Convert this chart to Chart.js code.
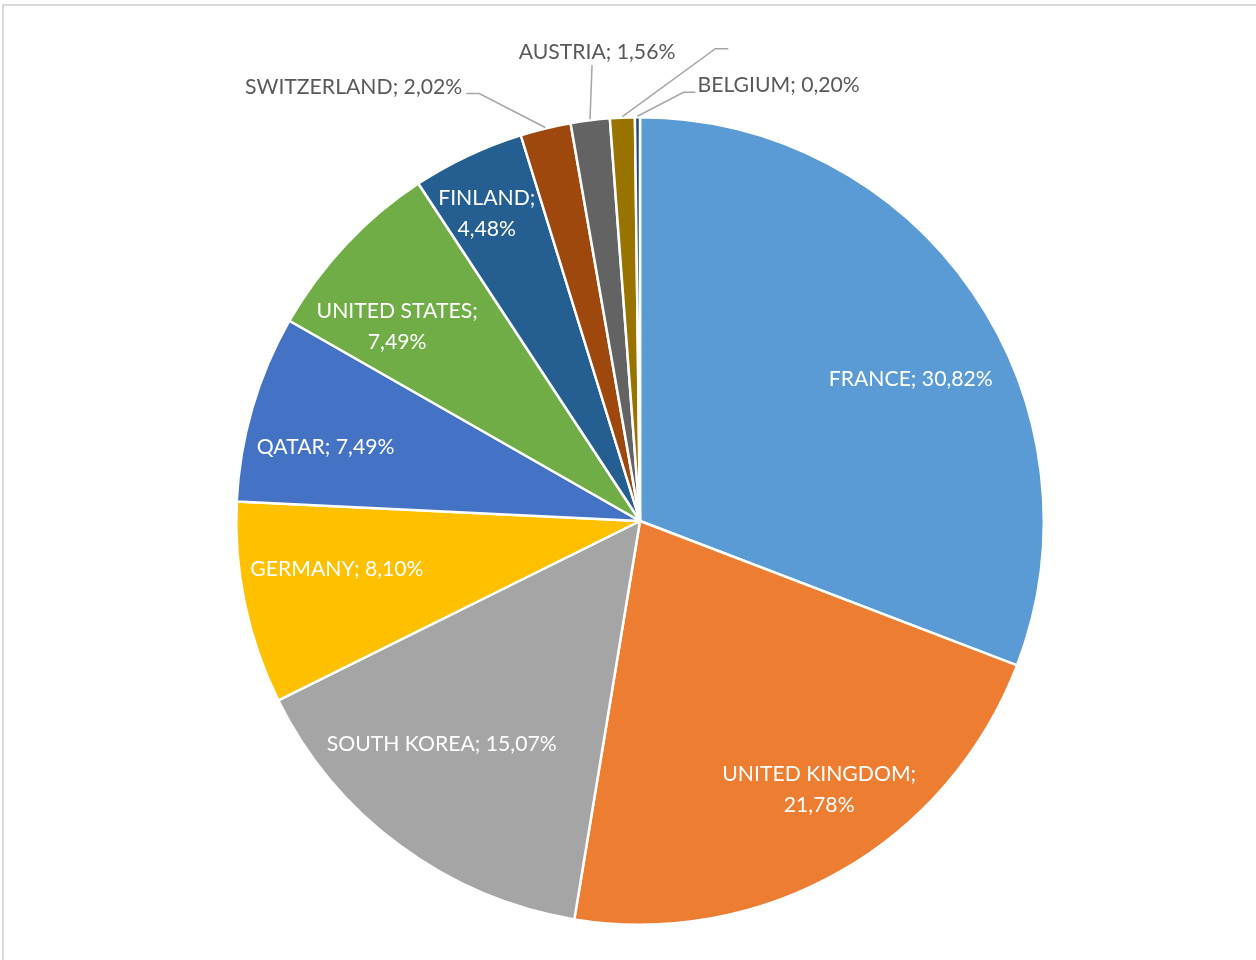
<!DOCTYPE html>
<html>
<head>
<meta charset="utf-8">
<script src="https://cdn.jsdelivr.net/npm/chart.js@4/dist/chart.umd.min.js"></script>
<style>
  html, body { margin: 0; padding: 0; background: #fff; }
  #wrap { position: relative; width: 1256px; height: 960px; overflow: hidden; }
  #frame { position: absolute; left: 2px; top: 4px; width: 1300px; height: 1000px;
           border-top: 2px solid #d9d9d9; border-left: 2px solid #d9d9d9; box-sizing: border-box; }
  #cv { position: absolute; left: 0; top: 0; }
</style>
</head>
<body>
<div id="wrap">
  <div id="frame"></div>
  <canvas id="cv" width="1256" height="960"></canvas>
</div>
<script>
// ---- data ----
const countries = ['FRANCE', 'UNITED KINGDOM', 'SOUTH KOREA', 'GERMANY', 'QATAR', 'UNITED STATES', 'FINLAND', 'SWITZERLAND', 'AUSTRIA', '', 'BELGIUM'];
const shares = [30.82, 21.78, 15.07, 8.10, 7.49, 7.49, 4.48, 2.02, 1.56, 0.99, 0.20];
const sliceColors = ['#5B9BD5', '#ED7D31', '#A5A5A5', '#FFC000', '#4472C4', '#70AD47', '#255E91', '#9E480E', '#636363', '#997300', '#264478'];

// ---- label layout (positions only) ----
const labelLayout = [
  { inside: true, t: 0.562, r: 0.757, br: false },
  { inside: true, t: 0.451, r: 0.800, br: true },
  { inside: true, t: 0.594, r: 0.740, br: false },
  { inside: true, t: 0.596, r: 0.760, br: false },
  { inside: true, t: 0.390, r: 0.800, br: false },
  { inside: true, t: 0.330, r: 0.770, br: true },
  { inside: true, t: 0.420, r: 0.850, br: true },
  { inside: false, elbow: [-66, -34], end: [-79, -34], text: [-83, -40], align: 'right' },
  { inside: false, elbow: [2, -54], end: [2, -54], text: [7, -67], align: 'center' },
  { inside: false, elbow: [93, -68], end: [106, -68], text: [110, -68], align: 'left' },
  { inside: false, elbow: [46, -24], end: [58, -24], text: [60, -31], align: 'left' }
];

const FONT_FAMILY = 'Lato, "Open Sans", sans-serif';
let fontSize = 20;
(function fitFont() {
  const c = document.createElement('canvas').getContext('2d');
  c.font = '100px ' + FONT_FAMILY;
  const w = c.measureText('FRANCE; 30,82%').width;
  fontSize = Math.round(164 / w * 100 * 10) / 10;
})();

function fmt(v) { return v.toFixed(2).replace('.', ','); }

const labelPlugin = {
  id: 'sliceLabels',
  afterDatasetsDraw(chart) {
    const ctx = chart.ctx;
    const meta = chart.getDatasetMeta(0);
    ctx.save();
    ctx.font = fontSize + 'px ' + FONT_FAMILY;
    ctx.textBaseline = 'middle';
    const lineH = fontSize * 1.45;
    meta.data.forEach((arc, i) => {
      const p = arc.getProps(['x', 'y', 'startAngle', 'endAngle', 'outerRadius'], true);
      const L = labelLayout[i];
      const name = countries[i];
      if (L.inside) {
        const a = p.startAngle + (p.endAngle - p.startAngle) * L.t;
        const cx = p.x + Math.cos(a) * p.outerRadius * L.r;
        const cy = p.y + Math.sin(a) * p.outerRadius * L.r;
        ctx.fillStyle = '#ffffff';
        ctx.textAlign = 'center';
        const lines = L.br ? [name + ';', fmt(shares[i]) + '%'] : [name + '; ' + fmt(shares[i]) + '%'];
        lines.forEach((ln, k) => {
          ctx.fillText(ln, cx, cy + (k - (lines.length - 1) / 2) * lineH);
        });
      } else {
        const a = (p.startAngle + p.endAngle) / 2;
        const ex = p.x + Math.cos(a) * (p.outerRadius + 1);
        const ey = p.y + Math.sin(a) * (p.outerRadius + 1);
        ctx.strokeStyle = '#a6a6a6';
        ctx.lineWidth = 1.5;
        ctx.beginPath();
        ctx.moveTo(ex, ey);
        ctx.lineTo(ex + L.elbow[0], ey + L.elbow[1]);
        ctx.lineTo(ex + L.end[0], ey + L.end[1]);
        ctx.stroke();
        if (name) {
          ctx.fillStyle = '#595959';
          ctx.textAlign = L.align;
          ctx.fillText(name + '; ' + fmt(shares[i]) + '%', ex + L.text[0], ey + L.text[1]);
        }
      }
    });
    ctx.restore();
  }
};

new Chart(document.getElementById('cv'), {
  type: 'pie',
  data: {
    labels: countries,
    datasets: [{
      data: shares,
      backgroundColor: sliceColors,
      borderColor: '#ffffff',
      borderWidth: 2.5
    }]
  },
  options: {
    responsive: false,
    animation: false,
    layout: { padding: { top: 116, bottom: 34, left: 24, right: 0 } },
    plugins: {
      legend: { display: false },
      tooltip: { enabled: false }
    }
  },
  plugins: [labelPlugin]
});
</script>
</body>
</html>
